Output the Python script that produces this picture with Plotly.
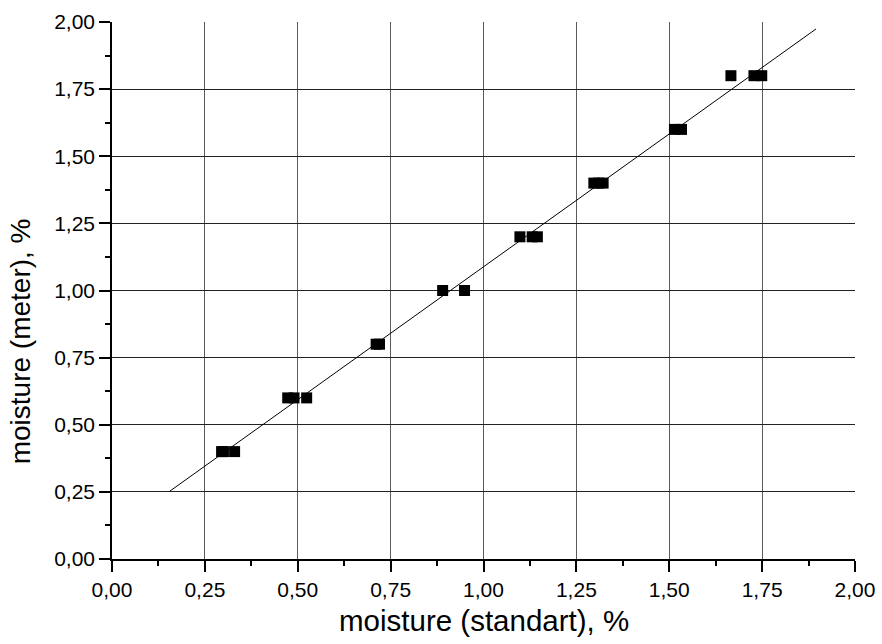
import plotly.graph_objects as go

x_standart = [0.295, 0.30, 0.33,
              0.473, 0.490, 0.524,
              0.711, 0.720,
              0.890, 0.949,
              1.098, 1.131, 1.145,
              1.297, 1.31, 1.322,
              1.514, 1.533,
              1.666, 1.728, 1.749]
y_meter = [0.40, 0.40, 0.40,
           0.60, 0.60, 0.60,
           0.80, 0.80,
           1.00, 1.00,
           1.20, 1.20, 1.20,
           1.40, 1.40, 1.40,
           1.60, 1.60,
           1.80, 1.80, 1.80]

# Fitted line end points
fit_x = [0.155, 1.895]
fit_y = [0.252, 1.974]

tick_vals = [0, 0.25, 0.5, 0.75, 1.0, 1.25, 1.5, 1.75, 2.0]
tick_text = ["0,00", "0,25", "0,50", "0,75", "1,00", "1,25", "1,50", "1,75", "2,00"]

x_title = "moisture (standart), %"
y_title = "moisture (meter), %"

FONT = "Liberation Sans, Arial, sans-serif"

fig = go.Figure()
fig.add_trace(go.Scatter(x=fit_x, y=fit_y, mode="lines",
                         line=dict(color="black", width=1), showlegend=False,
                         hoverinfo="skip"))
fig.add_trace(go.Scatter(x=x_standart, y=y_meter, mode="markers",
                         marker=dict(symbol="square", size=11, color="black",
                                     line=dict(width=0)),
                         showlegend=False))

axis_common = dict(
    range=[0, 2], tickvals=tick_vals, ticktext=tick_text,
    showline=True, linecolor="black", linewidth=1.5,
    ticks="outside", ticklen=11, tickwidth=1.5, tickcolor="black",
    tickfont=dict(family=FONT, size=21, color="black"),
    showgrid=True, gridwidth=1, zeroline=False, automargin=False,
    minor=dict(dtick=0.125, tick0=0, ticks="outside", ticklen=5,
               tickwidth=1.5, tickcolor="black", showgrid=False),
    fixedrange=True,
)

fig.update_xaxes(**axis_common, gridcolor="#5a5a5a")
fig.update_yaxes(**axis_common, gridcolor="#222222")

fig.add_annotation(text=x_title, xref="paper", yref="paper", x=0.5, y=-0.1136,
                   xanchor="center", yanchor="middle", showarrow=False,
                   font=dict(family=FONT, size=29.5, color="black"))
fig.add_annotation(text=y_title, xref="paper", yref="paper", x=-0.122, y=0.406,
                   xanchor="center", yanchor="middle", showarrow=False,
                   textangle=-90,
                   font=dict(family=FONT, size=28, color="black"))

fig.update_layout(
    width=882, height=644,
    margin=dict(l=112, r=27, t=22, b=85, autoexpand=False),
    plot_bgcolor="white", paper_bgcolor="white",
    font=dict(family=FONT, color="black"),
)

fig.write_html("out.html", config={"displayModeBar": False},
               post_script="document.body.style.margin='0';")
